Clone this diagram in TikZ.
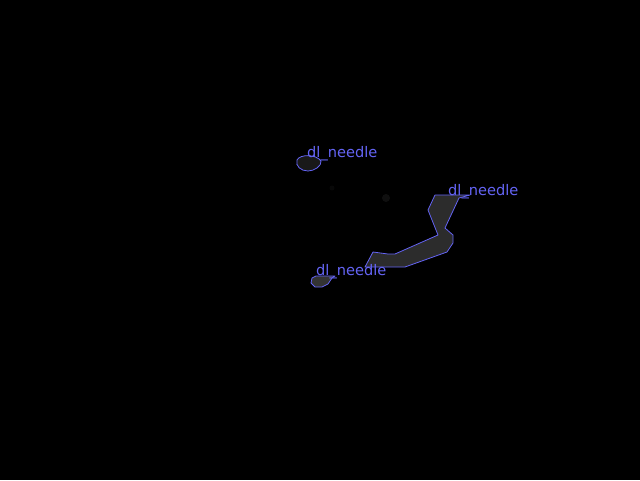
\documentclass[tikz,border=0pt]{standalone}
\usepackage{fontspec}
\setmainfont{DejaVu Sans}
\definecolor{lblue}{RGB}{100,100,245}
\definecolor{blobgray}{RGB}{44,44,44}
\begin{document}
\begin{tikzpicture}[x=1pt,y=-1pt,
  outline/.style={draw=lblue,line width=0.8pt,line join=round},
  lbl/.style={text=lblue,font=\fontsize{14.6}{16}\selectfont,inner sep=0pt,anchor=base west}]
\fill[black] (0,0) rectangle (640,480);
\useasboundingbox (0,0) rectangle (640,480);
% faint spots
\fill[black!88!white,opacity=0.5] (386,198) circle (4);
\fill[black!92!white,opacity=0.4] (332,188) circle (2.5);
% top small blob
\draw[outline,fill=black!90!white] (297,160) .. controls (300,154) and (316,154) .. (321,161)
  .. controls (322,166) and (314,171) .. (308,171) .. controls (301,171) and (295,166) .. (297,160) -- cycle;
% big needle
\draw[outline,fill=blobgray] (435,195) -- (428,210) -- (438,235) -- (395,254) -- (388,254)
  -- (373,252) -- (365,267) -- (405,267) -- (447,252) -- (453,243) -- (453,235) -- (445,228)
  -- (459,198) -- (470,195) -- cycle;
% bottom small blob
\draw[outline,fill=black!80!white] (312,278) -- (316,276) -- (335,276) -- (332,278) -- (328,284)
  -- (322,287) -- (315,287) -- (311,283) -- cycle;
\node[lbl] (l1) at (307,157) {dl\_needle};
\node[lbl] (l2) at (448,195) {dl\_needle};
\node[lbl] (l3) at (316,275) {dl\_needle};
\end{tikzpicture}
\end{document}
